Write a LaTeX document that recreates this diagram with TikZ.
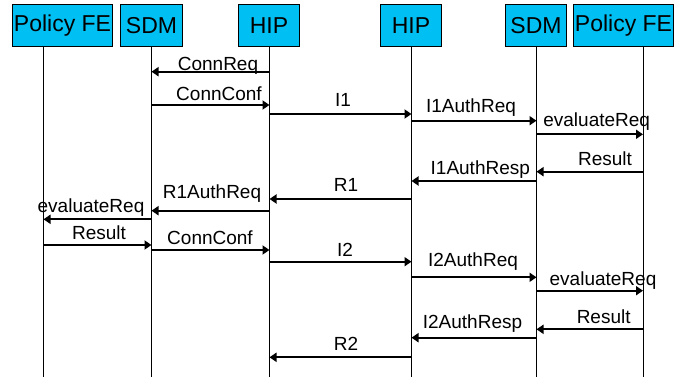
\documentclass[tikz,border=0pt]{standalone}
\usepackage{fontspec}
\setmainfont{Liberation Sans}
\usetikzlibrary{positioning,arrows.meta}
\definecolor{actorblue}{RGB}{0,191,243}

\begin{document}
\begin{tikzpicture}[
    x=1pt, y=-1pt,
    every node/.style={inner sep=0pt},
    actor/.style={
        draw,
        line width=1pt,
        fill=actorblue,
        minimum height=42pt,
        font=\fontsize{23pt}{27pt}\selectfont
    },
    life/.style={line width=1pt},
    msg/.style={line width=2pt, -{Triangle[length=7pt,width=9pt]}},
    lbl/.style={anchor=base, font=\fontsize{19pt}{23pt}\selectfont}
]
\useasboundingbox (0,0) rectangle (683,377);

% entities
\node[actor, minimum width=100pt] (pfA) at (62.5,26) {Policy FE};
\node[actor, minimum width=62pt] (sdmA) at (151.5,26) {SDM};
\node[actor, minimum width=61pt] (hipA) at (269,26) {HIP};
\node[actor, minimum width=61pt] (hipB) at (411,26) {HIP};
\node[actor, minimum width=61pt] (sdmB) at (536,26) {SDM};
\node[actor, minimum width=100pt] (pfB) at (623.5,26) {Policy FE};

% lifelines
\coordinate (lPfA) at ([xshift=31.5pt]pfA.south west);
\coordinate (lSdmA) at (sdmA.south);
\coordinate (lHipA) at ([xshift=0.5pt]hipA.south);
\coordinate (lHipB) at ([xshift=0.5pt]hipB.south);
\coordinate (lSdmB) at ([xshift=0.5pt]sdmB.south);
\coordinate (lPfB) at ([xshift=-31pt]pfB.south east);
\draw[life] (lPfA) -- (lPfA |- 0,377);
\draw[life] (lSdmA) -- (lSdmA |- 0,377);
\draw[life] (lHipA) -- (lHipA |- 0,377);
\draw[life] (lHipB) -- (lHipB |- 0,377);
\draw[life] (lSdmB) -- (lSdmB |- 0,377);
\draw[life] (lPfB) -- (lPfB |- 0,377);

% first exchange
\draw[msg] (lHipA |- 0,71.7) -- (lSdmA |- 0,71.7);
\node[lbl] (t1) at (218,70.5) {ConnReq};
\draw[msg] (lSdmA |- 0,105) -- (lHipA |- 0,105);
\node[lbl] (t2) at (219,100.5) {ConnConf};
\draw[msg] (lHipA |- 0,114) -- (lHipB |- 0,114);
\node[lbl] (t3) at (343,107) {I1};
\draw[msg] (lHipB |- 0,120.7) -- (lSdmB |- 0,120.7);
\node[lbl] (t4) at (471,112.3) {I1AuthReq};
\draw[msg] (lSdmB |- 0,134.3) -- (lPfB |- 0,134.3);
\node[lbl] (t5) at (596.7,126.7) {evaluateReq};
\draw[msg] (lPfB |- 0,171.7) -- (lSdmB |- 0,171.7);
\node[lbl] (t6) at (605,166) {Result};
\draw[msg] (lSdmB |- 0,181) -- (lHipB |- 0,181);
\node[lbl] (t7) at (480.3,175) {I1AuthResp};
\draw[msg] (lHipB |- 0,199) -- (lHipA |- 0,199);
\node[lbl] (t8) at (346,191.7) {R1};
\draw[msg] (lHipA |- 0,210.7) -- (lSdmA |- 0,210.7);
\node[lbl] (t9) at (212,199) {R1AuthReq};
\draw[msg] (lSdmA |- 0,219.3) -- (lPfA |- 0,219.3);
\node[lbl] (t10) at (91,212.7) {evaluateReq};
\draw[msg] (lPfA |- 0,245) -- (lSdmA |- 0,245);
\node[lbl] (t11) at (99,239.3) {Result};

% second exchange
\draw[msg] (lSdmA |- 0,250) -- (lHipA |- 0,250);
\node[lbl] (t12) at (210,244) {ConnConf};
\draw[msg] (lHipA |- 0,261.7) -- (lHipB |- 0,261.7);
\node[lbl] (t13) at (345,256) {I2};
\draw[msg] (lHipB |- 0,277.3) -- (lSdmB |- 0,277.3);
\node[lbl] (t14) at (473,266.7) {I2AuthReq};
\draw[msg] (lSdmB |- 0,290.7) -- (lPfB |- 0,290.7);
\node[lbl] (t15) at (603,285.7) {evaluateReq};
\draw[msg] (lPfB |- 0,329.3) -- (lSdmB |- 0,329.3);
\node[lbl] (t16) at (603.7,323.3) {Result};
\draw[msg] (lSdmB |- 0,337.7) -- (lHipB |- 0,337.7);
\node[lbl] (t17) at (472.5,328.3) {I2AuthResp};
\draw[msg] (lHipB |- 0,357.3) -- (lHipA |- 0,357.3);
\node[lbl] (t18) at (346,350) {R2};
\end{tikzpicture}
\end{document}
